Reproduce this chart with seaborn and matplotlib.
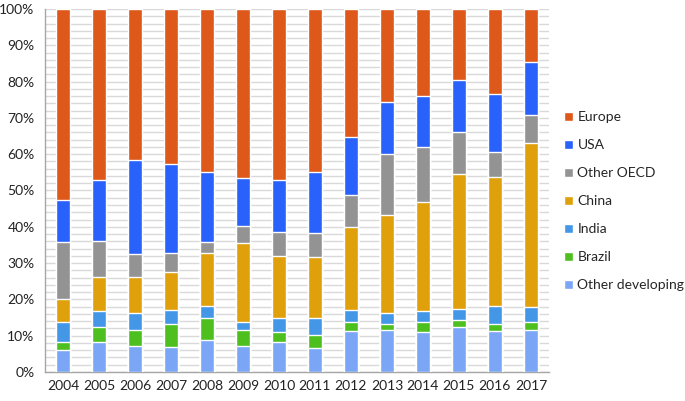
import numpy as np
import pandas as pd
import matplotlib
matplotlib.use("Agg")
import matplotlib.pyplot as plt
import seaborn as sns
from matplotlib.patches import Patch
from matplotlib.ticker import FuncFormatter, MultipleLocator

# Data (share of total, %)
years = [str(y) for y in range(2004, 2018)]
other_developing = [6.2, 8.4, 7.2, 6.9, 8.7, 7.2, 8.2, 6.5, 11.3, 11.5, 11.1, 12.3, 11.3, 11.7]
brazil = [2.0, 3.9, 4.5, 6.2, 6.3, 4.5, 2.9, 3.6, 2.5, 1.7, 2.8, 2.1, 2.0, 2.2]
india = [5.6, 4.4, 4.6, 4.1, 3.2, 2.2, 3.9, 4.9, 3.3, 3.0, 3.0, 3.0, 5.0, 4.0]
china = [6.3, 9.6, 9.8, 10.4, 14.5, 21.5, 17.0, 16.7, 22.8, 27.0, 30.0, 37.1, 35.4, 45.1]
other_oecd = [15.6, 9.9, 6.3, 5.2, 3.1, 4.9, 6.5, 6.6, 8.8, 16.9, 15.2, 11.5, 6.8, 7.7]
usa = [11.7, 16.7, 25.9, 24.6, 19.4, 13.2, 14.3, 16.8, 16.0, 14.4, 13.9, 14.5, 16.0, 14.7]
europe = [52.6, 47.1, 41.7, 42.6, 44.8, 46.5, 47.2, 44.9, 35.3, 25.5, 24.0, 19.5, 23.5, 14.6]

# bottom to top
series = {
    "Other developing": other_developing,
    "Brazil": brazil,
    "India": india,
    "China": china,
    "Other OECD": other_oecd,
    "USA": usa,
    "Europe": europe,
}
colors = {
    "Other developing": "#7aa6f5",
    "Brazil": "#4dbf1e",
    "India": "#4397e6",
    "China": "#e0a00b",
    "Other OECD": "#939393",
    "USA": "#2962fb",
    "Europe": "#dd5819",
}

df = pd.DataFrame(series, index=years)
cum = df.cumsum(axis=1)

sns.set_style("white")
plt.rcParams["font.family"] = ["Lato", "DejaVu Sans"]

fig = plt.figure(figsize=(6.85, 4.01), dpi=100)
ax = fig.add_axes([0.0657, 0.0723, 0.7357, 0.9053])

# classic seaborn stacked bars: draw cumulative totals, top layer first
for name in reversed(list(series.keys())):
    sns.barplot(x=cum.index, y=cum[name].values, color=colors[name],
                width=0.4, saturation=1, ax=ax, zorder=3)

ax.set_ylim(0, 100)
ax.set_xlim(-0.5, len(years) - 0.5)
ax.yaxis.set_major_locator(MultipleLocator(10))
ax.yaxis.set_minor_locator(MultipleLocator(2))
ax.yaxis.set_major_formatter(FuncFormatter(lambda v, p: f"{v:.0f}%"))
ax.grid(axis="y", which="both", color="#d9d9d9", linewidth=1, zorder=0)
ax.set_axisbelow(True)
ax.set_xlabel("")
ax.set_ylabel("")

# x ticks between categories
ax.set_xticks(np.arange(-0.5, len(years), 1), minor=True)
ax.tick_params(axis="x", which="major", length=0, pad=6, labelsize=10, colors="#222222")
ax.tick_params(axis="x", which="minor", length=4, color="#a6a6a6", direction="out")
ax.tick_params(axis="y", which="major", length=4, color="#a6a6a6", direction="out",
               labelsize=10, colors="#222222")
ax.tick_params(axis="y", which="minor", length=0)

for side in ["top", "right"]:
    ax.spines[side].set_visible(False)
for side in ["left", "bottom"]:
    ax.spines[side].set_color("#a6a6a6")
    ax.spines[side].set_linewidth(1)

handles = [Patch(facecolor=colors[n], label=n) for n in reversed(list(series.keys()))]
ax.legend(handles=handles, loc="center left", bbox_to_anchor=(1.018, 0.47),
          borderaxespad=0, frameon=False, handlelength=0.7, handleheight=0.7,
          handletextpad=0.3, labelspacing=1.15, fontsize=10)

fig.savefig("out.png", dpi=100)
